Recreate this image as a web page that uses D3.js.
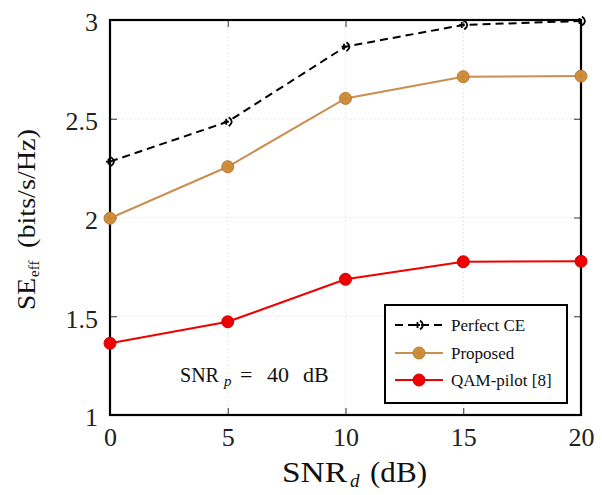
<!DOCTYPE html>
<html><head><meta charset="utf-8">
<script src="https://cdn.jsdelivr.net/npm/d3@7"></script>
<style>body{margin:0;background:#fff}svg{display:block}
svg text{font-family:"Liberation Serif","DejaVu Serif",serif !important;}</style>
</head><body><svg id="c" width="602" height="495"></svg>
<script>
const snr = [0, 5, 10, 15, 20];
const perfectCE = [2.283, 2.485, 2.865, 2.975, 2.995];
const proposed = [1.996, 2.257, 2.603, 2.713, 2.716];
const qamPilot = [1.363, 1.472, 1.687, 1.776, 1.778];
const xTicks = [0, 5, 10, 15, 20];
const yTicks = [1, 1.5, 2, 2.5, 3];
const seriesNames = ["Perfect CE", "Proposed", "QAM-pilot [8]"];

const svg = d3.select("#c");
const L = 110, R = 581, T = 20, B = 415;
const x = d3.scaleLinear().domain([0, 20]).range([L, R]);
const y = d3.scaleLinear().domain([1, 3]).range([B, T]);

// grid
const g = svg.append("g");
g.selectAll(".gx").data(xTicks).join("line")
  .attr("x1", d => x(d)).attr("x2", d => x(d)).attr("y1", T).attr("y2", B)
  .attr("stroke", "#dcdcdc").attr("stroke-width", 0.8).attr("stroke-dasharray", "1.5,2.5");
g.selectAll(".gy").data(yTicks).join("line")
  .attr("y1", d => y(d)).attr("y2", d => y(d)).attr("x1", L).attr("x2", R)
  .attr("stroke", "#dcdcdc").attr("stroke-width", 0.8).attr("stroke-dasharray", "1.5,2.5");

// axes with inward ticks
const ax = svg.append("g");
function styleAx(s) { s.select(".domain").remove(); s.selectAll("text").attr("font-size", 26).attr("fill", "#222"); s.selectAll("line").attr("stroke", "#333"); }
ax.append("g").attr("transform", `translate(0,${B})`)
  .call(d3.axisBottom(x).tickValues(xTicks).tickSizeInner(-7).tickSizeOuter(0).tickPadding(13)).call(styleAx);
ax.append("g").attr("transform", `translate(0,${T})`)
  .call(d3.axisTop(x).tickValues(xTicks).tickSizeInner(-7).tickSizeOuter(0).tickFormat("")).call(styleAx);
ax.append("g").attr("transform", `translate(${L},0)`)
  .call(d3.axisLeft(y).tickValues(yTicks).tickSizeInner(-7).tickSizeOuter(0).tickPadding(12).tickFormat(d3.format(""))).call(styleAx)
  .call(s => s.selectAll("text").attr("dy", "0.42em"));
ax.append("g").attr("transform", `translate(${R},0)`)
  .call(d3.axisRight(y).tickValues(yTicks).tickSizeInner(-7).tickSizeOuter(0).tickFormat("")).call(styleAx);

// frame
svg.append("rect").attr("x", L).attr("y", T).attr("width", R - L).attr("height", B - T)
  .attr("fill", "none").attr("stroke", "#000").attr("stroke-width", 2.2);

const line = d3.line().x((d, i) => x(snr[i])).y(d => y(d));
const orange = "#c98f4f", orangeFill = "#d08e3c", red = "#f00000";

function ceMarker(sel) {
  sel.append("path").attr("d", "M-4,0 L1,0 M-1.5,-3 L-1.5,3 M1,-4.5 Q7,0 1,4.5")
    .attr("fill", "none").attr("stroke", "#000").attr("stroke-width", 1.8);
}
function circMarker(sel, fill, stroke) {
  sel.append("circle").attr("r", 6).attr("fill", fill).attr("stroke", stroke).attr("stroke-width", 1);
  sel.append("path").attr("d", "M0,-3 L0,3 M-3,0 L3,0").attr("stroke", stroke).attr("stroke-width", 0.6).attr("opacity", 0.5);
}

// series
svg.append("path").datum(perfectCE).attr("d", line).attr("fill", "none")
  .attr("stroke", "#000").attr("stroke-width", 2).attr("stroke-dasharray", "8,5");
svg.append("path").datum(proposed).attr("d", line).attr("fill", "none")
  .attr("stroke", orange).attr("stroke-width", 2);
svg.append("path").datum(qamPilot).attr("d", line).attr("fill", "none")
  .attr("stroke", red).attr("stroke-width", 2);

perfectCE.forEach((v, i) => ceMarker(svg.append("g").attr("transform", `translate(${x(snr[i])},${y(v)})`)));
proposed.forEach((v, i) => circMarker(svg.append("g").attr("transform", `translate(${x(snr[i])},${y(v)})`), orangeFill, "#b77a30"));
qamPilot.forEach((v, i) => circMarker(svg.append("g").attr("transform", `translate(${x(snr[i])},${y(v)})`), red, "#d00000"));

// legend
const lg = svg.append("g");
lg.append("rect").attr("x", 385).attr("y", 305).attr("width", 182).attr("height", 98)
  .attr("fill", "#fff").attr("stroke", "#000").attr("stroke-width", 2);
const ly = [325, 353, 380];
lg.append("line").attr("x1", 395).attr("x2", 443).attr("y1", ly[0]).attr("y2", ly[0])
  .attr("stroke", "#000").attr("stroke-width", 2).attr("stroke-dasharray", "8,5");
ceMarker(lg.append("g").attr("transform", `translate(419,${ly[0]})`));
lg.append("line").attr("x1", 395).attr("x2", 443).attr("y1", ly[1]).attr("y2", ly[1])
  .attr("stroke", orange).attr("stroke-width", 2);
circMarker(lg.append("g").attr("transform", `translate(419,${ly[1]})`), orangeFill, "#b77a30");
lg.append("line").attr("x1", 395).attr("x2", 443).attr("y1", ly[2]).attr("y2", ly[2])
  .attr("stroke", red).attr("stroke-width", 2);
circMarker(lg.append("g").attr("transform", `translate(419,${ly[2]})`), red, "#d00000");
seriesNames.forEach((n, i) => {
  lg.append("text").attr("x", 451).attr("y", ly[i] + 6).attr("font-size", 17).attr("fill", "#111").text(n);
});

// annotation: SNR_p = 40 dB
const an = svg.append("g").attr("fill", "#111");
an.append("text").attr("x", 180).attr("y", 382).attr("font-size", 21).attr("textLength", 39).attr("lengthAdjust", "spacingAndGlyphs").text("SNR");
an.append("text").attr("x", 224).attr("y", 386).attr("font-size", 15).attr("font-style", "italic").text("p");
an.append("text").attr("x", 240).attr("y", 382).attr("font-size", 22).text("=");
an.append("text").attr("x", 267).attr("y", 382).attr("font-size", 22).text("40");
an.append("text").attr("x", 303).attr("y", 382).attr("font-size", 22).text("dB");

// x title: SNR_d (dB)
const xt = svg.append("g").attr("fill", "#111");
xt.append("text").attr("x", 282).attr("y", 482).attr("font-size", 29).attr("textLength", 65).attr("lengthAdjust", "spacingAndGlyphs").text("SNR");
xt.append("text").attr("x", 350).attr("y", 487).attr("font-size", 19).attr("font-style", "italic").text("d");
xt.append("text").attr("x", 370).attr("y", 482).attr("font-size", 29).attr("textLength", 57).attr("lengthAdjust", "spacingAndGlyphs").text("(dB)");

// y title: SE_eff (bits/s/Hz)
const yt = svg.append("g").attr("fill", "#111");
yt.append("text").attr("transform", "translate(35,310) rotate(-90)").attr("font-size", 26).attr("textLength", 32).attr("lengthAdjust", "spacingAndGlyphs").text("SE");
yt.append("text").attr("transform", "translate(39,277) rotate(-90)").attr("font-size", 15).text("eff");
yt.append("text").attr("transform", "translate(35,248) rotate(-90)").attr("font-size", 26).attr("textLength", 119).attr("lengthAdjust", "spacingAndGlyphs").text("(bits/s/Hz)");
</script></body></html>
